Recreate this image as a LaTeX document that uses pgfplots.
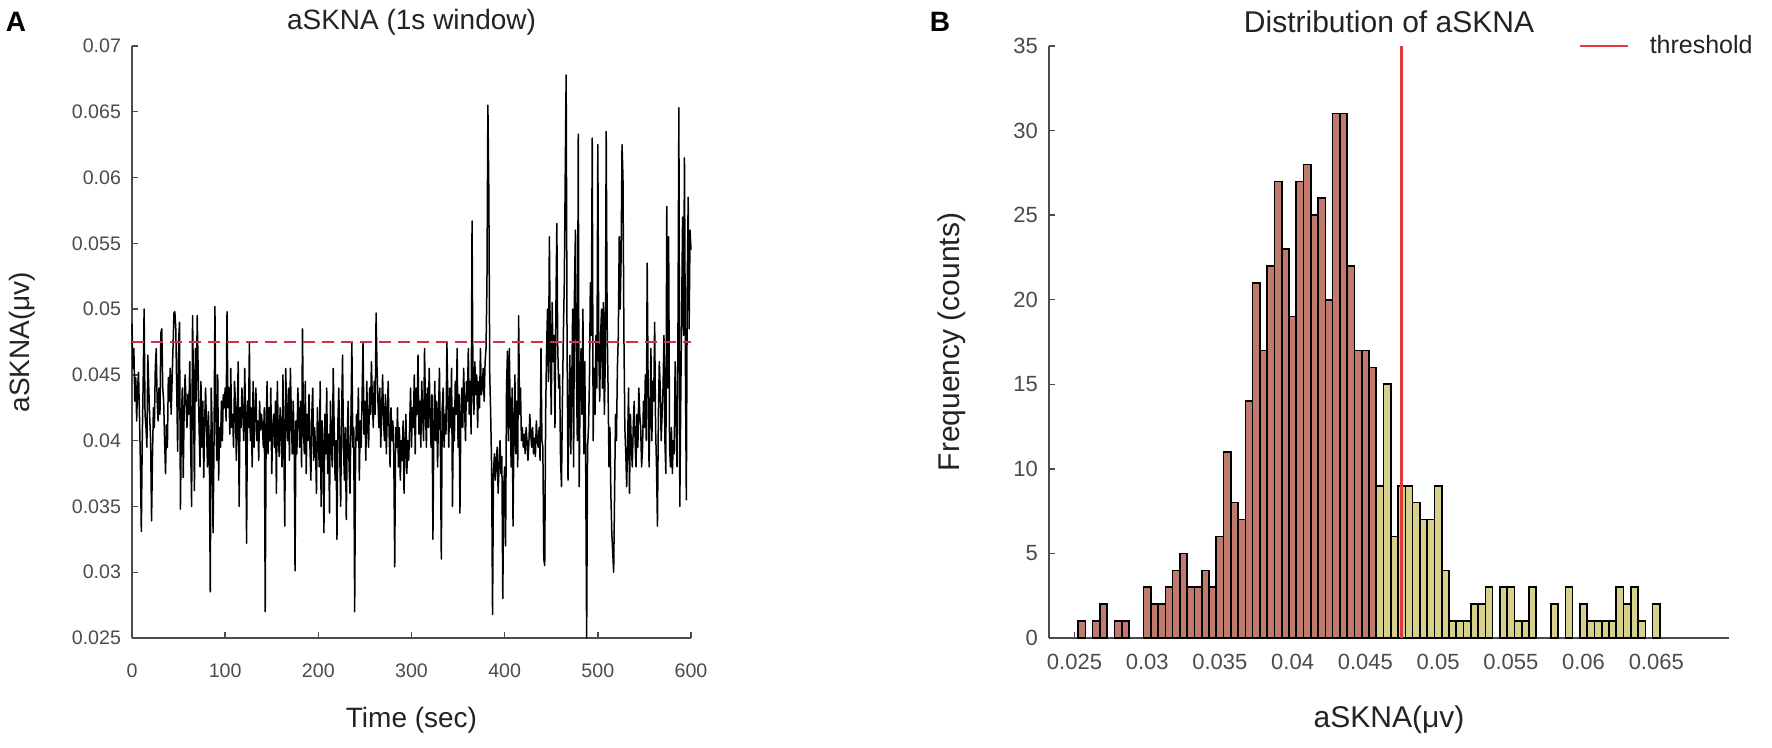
\documentclass[border=0pt]{standalone}
\usepackage{fontspec}
\setmainfont{Liberation Sans}
\usepackage{pgfplots}
\pgfplotsset{compat=1.18}
\definecolor{brownbar}{RGB}{192,122,108}
\definecolor{yellowbar}{RGB}{214,208,138}
\definecolor{thr}{RGB}{228,58,58}
\definecolor{dashred}{RGB}{205,50,70}
\definecolor{axgray}{RGB}{75,75,75}
\definecolor{labgray}{RGB}{35,35,35}
\begin{document}
\begin{tikzpicture}
\useasboundingbox (0,0) rectangle (886pt,374pt);
\pgfplotsset{
  myaxis/.style={
    scale only axis,
    axis x line=bottom, axis y line=left,
    axis line style={axgray, line width=0.8pt, -},
    tick align=inside,
    tick style={axgray, line width=0.7pt},
    major tick length=3pt,
    /pgf/number format/assume math mode=true,
    xticklabel style={yshift=-4.5pt},
    yticklabel style={xshift=-2pt},
    scaled x ticks=false, scaled y ticks=false,
    clip=false,
  }
}
% ---------- Panel A ----------
\begin{axis}[myaxis, at={(66pt,55pt)}, anchor=south west,
  width=279.5pt, height=296pt,
  tick label style={font=\fontsize{9.8}{12}\selectfont, text=axgray},
  xticklabel style={yshift=-5pt},
  xmin=0, xmax=600, ymin=0.025, ymax=0.07,
  xtick={0,100,200,300,400,500,600},
  ytick={0.025,0.03,0.035,0.04,0.045,0.05,0.055,0.06,0.065,0.07},
  yticklabels={0.025,0.03,0.035,0.04,0.045,0.05,0.055,0.06,0.065,0.07}]
\addplot[black, line width=0.75pt, line join=round] coordinates {
(0,0.0489)(1,0.0455)(2,0.0470)(3,0.0430)(4,0.0448)(5,0.0415)(6,0.0440)(7,0.0452)(8,0.0420)(9,0.0384)(10,0.0331)(11,0.0400)(12,0.0445)(13,0.0500)(14,0.0420)(15,0.0410)(16,0.0395)(17,0.0465)(18,0.0440)(19,0.0418)
(20,0.0400)(21,0.0339)(22,0.0388)(23,0.0425)(24,0.0410)(25,0.0455)(26,0.0470)(27,0.0430)(28,0.0415)(29,0.0440)(30,0.0420)(31,0.0482)(32,0.0485)(33,0.0440)(34,0.0430)(35,0.0400)(36,0.0375)(37,0.0412)(38,0.0395)(39,0.0448)
(40,0.0430)(41,0.0455)(42,0.0420)(43,0.0445)(44,0.0470)(45,0.0497)(46,0.0498)(47,0.0485)(48,0.0440)(49,0.0392)(50,0.0475)(51,0.0490)(52,0.0348)(53,0.0415)(54,0.0440)(55,0.0372)(56,0.0425)(57,0.0450)(58,0.0430)(59,0.0410)
(60,0.0435)(61,0.0420)(62,0.0460)(63,0.0395)(64,0.0350)(65,0.0495)(66,0.0440)(67,0.0362)(68,0.0470)(69,0.0430)(70,0.0495)(71,0.0455)(72,0.0410)(73,0.0380)(74,0.0445)(75,0.0395)(76,0.0430)(77,0.0372)(78,0.0415)(79,0.0440)
(80,0.0410)(81,0.0380)(82,0.0422)(83,0.0395)(84,0.0285)(85,0.0440)(86,0.0410)(87,0.0330)(88,0.0395)(89,0.0502)(90,0.0420)(91,0.0385)(92,0.0450)(93,0.0370)(94,0.0410)(95,0.0395)(96,0.0430)(97,0.0400)(98,0.0435)(99,0.0425)
(100,0.0440)(101,0.0415)(102,0.0498)(103,0.0425)(104,0.0440)(105,0.0405)(106,0.0455)(107,0.0410)(108,0.0420)(109,0.0395)(110,0.0445)(111,0.0430)(112,0.0385)(113,0.0420)(114,0.0460)(115,0.0350)(116,0.0425)(117,0.0410)(118,0.0440)(119,0.0420)
(120,0.0400)(121,0.0455)(122,0.0415)(123,0.0322)(124,0.0430)(125,0.0410)(126,0.0475)(127,0.0400)(128,0.0425)(129,0.0380)(130,0.0445)(131,0.0395)(132,0.0420)(133,0.0440)(134,0.0400)(135,0.0415)(136,0.0385)(137,0.0430)(138,0.0408)(139,0.0420)
(140,0.0410)(141,0.0395)(142,0.0425)(143,0.0270)(144,0.0410)(145,0.0445)(146,0.0390)(147,0.0425)(148,0.0400)(149,0.0440)(150,0.0375)(151,0.0410)(152,0.0420)(153,0.0395)(154,0.0430)(155,0.0360)(156,0.0445)(157,0.0405)(158,0.0388)(159,0.0425)
(160,0.0410)(161,0.0380)(162,0.0450)(163,0.0395)(164,0.0335)(165,0.0455)(166,0.0420)(167,0.0400)(168,0.0440)(169,0.0385)(170,0.0455)(171,0.0420)(172,0.0390)(173,0.0430)(174,0.0405)(175,0.0301)(176,0.0415)(177,0.0390)(178,0.0440)(179,0.0420)
(180,0.0395)(181,0.0430)(182,0.0380)(183,0.0485)(184,0.0410)(185,0.0390)(186,0.0445)(187,0.0375)(188,0.0420)(189,0.0400)(190,0.0435)(191,0.0395)(192,0.0370)(193,0.0420)(194,0.0440)(195,0.0385)(196,0.0410)(197,0.0395)(198,0.0360)(199,0.0425)
(200,0.0400)(201,0.0380)(202,0.0445)(203,0.0350)(204,0.0415)(205,0.0395)(206,0.0330)(207,0.0420)(208,0.0390)(209,0.0440)(210,0.0375)(211,0.0405)(212,0.0345)(213,0.0430)(214,0.0395)(215,0.0380)(216,0.0455)(217,0.0410)(218,0.0370)(219,0.0400)
(220,0.0325)(221,0.0415)(222,0.0440)(223,0.0390)(224,0.0350)(225,0.0420)(226,0.0465)(227,0.0395)(228,0.0370)(229,0.0410)(230,0.0340)(231,0.0400)(232,0.0430)(233,0.0380)(234,0.0360)(235,0.0415)(236,0.0475)(237,0.0395)(238,0.0410)(239,0.0270)
(240,0.0390)(241,0.0420)(242,0.0400)(243,0.0440)(244,0.0370)(245,0.0415)(246,0.0395)(247,0.0435)(248,0.0475)(249,0.0405)(250,0.0430)(251,0.0385)(252,0.0445)(253,0.0410)(254,0.0395)(255,0.0440)(256,0.0420)(257,0.0460)(258,0.0430)(259,0.0410)
(260,0.0445)(261,0.0420)(262,0.0497)(263,0.0455)(264,0.0430)(265,0.0410)(266,0.0440)(267,0.0395)(268,0.0425)(269,0.0450)(270,0.0415)(271,0.0400)(272,0.0435)(273,0.0390)(274,0.0420)(275,0.0445)(276,0.0405)(277,0.0380)(278,0.0425)(279,0.0400)
(280,0.0415)(281,0.0390)(282,0.0304)(283,0.0410)(284,0.0395)(285,0.0425)(286,0.0380)(287,0.0410)(288,0.0370)(289,0.0400)(290,0.0385)(291,0.0415)(292,0.0360)(293,0.0395)(294,0.0420)(295,0.0375)(296,0.0400)(297,0.0385)(298,0.0410)(299,0.0440)
(300,0.0395)(301,0.0425)(302,0.0410)(303,0.0450)(304,0.0390)(305,0.0440)(306,0.0420)(307,0.0465)(308,0.0405)(309,0.0430)(310,0.0395)(311,0.0445)(312,0.0420)(313,0.0400)(314,0.0470)(315,0.0425)(316,0.0395)(317,0.0440)(318,0.0410)(319,0.0455)
(320,0.0420)(321,0.0395)(322,0.0435)(323,0.0325)(324,0.0410)(325,0.0445)(326,0.0400)(327,0.0430)(328,0.0380)(329,0.0420)(330,0.0455)(331,0.0400)(332,0.0310)(333,0.0425)(334,0.0440)(335,0.0395)(336,0.0420)(337,0.0405)(338,0.0475)(339,0.0430)
(340,0.0395)(341,0.0440)(342,0.0410)(343,0.0455)(344,0.0350)(345,0.0425)(346,0.0400)(347,0.0445)(348,0.0420)(349,0.0470)(350,0.0395)(351,0.0435)(352,0.0345)(353,0.0420)(354,0.0440)(355,0.0410)(356,0.0455)(357,0.0425)(358,0.0400)(359,0.0445)
(360,0.0430)(361,0.0470)(362,0.0420)(363,0.0445)(364,0.0405)(365,0.0567)(366,0.0440)(367,0.0420)(368,0.0460)(369,0.0435)(370,0.0450)(371,0.0410)(372,0.0445)(373,0.0425)(374,0.0470)(375,0.0435)(376,0.0440)(377,0.0455)(378,0.0430)(379,0.0460)
(380,0.0470)(381,0.0520)(382,0.0655)(383,0.0590)(384,0.0450)(385,0.0420)(386,0.0380)(387,0.0268)(388,0.0375)(389,0.0390)(390,0.0370)(391,0.0385)(392,0.0395)(393,0.0360)(394,0.0380)(395,0.0400)(396,0.0375)(397,0.0388)(398,0.0280)(399,0.0365)
(400,0.0380)(401,0.0320)(402,0.0440)(403,0.0468)(404,0.0400)(405,0.0470)(406,0.0420)(407,0.0380)(408,0.0440)(409,0.0335)(410,0.0410)(411,0.0450)(412,0.0390)(413,0.0430)(414,0.0380)(415,0.0495)(416,0.0420)(417,0.0440)(418,0.0400)(419,0.0410)
(420,0.0395)(421,0.0405)(422,0.0390)(423,0.0410)(424,0.0400)(425,0.0385)(426,0.0398)(427,0.0420)(428,0.0405)(429,0.0395)(430,0.0410)(431,0.0390)(432,0.0402)(433,0.0388)(434,0.0415)(435,0.0400)(436,0.0395)(437,0.0410)(438,0.0385)(439,0.0470)
(440,0.0400)(441,0.0395)(442,0.0310)(443,0.0305)(444,0.0420)(445,0.0470)(446,0.0500)(447,0.0445)(448,0.0555)(449,0.0470)(450,0.0420)(451,0.0505)(452,0.0460)(453,0.0480)(454,0.0410)(455,0.0500)(456,0.0565)(457,0.0470)(458,0.0440)(459,0.0450)
(460,0.0385)(461,0.0365)(462,0.0430)(463,0.0480)(464,0.0520)(465,0.0600)(466,0.0678)(467,0.0470)(468,0.0370)(469,0.0420)(470,0.0465)(471,0.0390)(472,0.0440)(473,0.0500)(474,0.0380)(475,0.0520)(476,0.0560)(477,0.0450)(478,0.0400)(479,0.0633)
(480,0.0365)(481,0.0440)(482,0.0470)(483,0.0420)(484,0.0500)(485,0.0390)(486,0.0460)(487,0.0380)(488,0.0250)(489,0.0395)(490,0.0410)(491,0.0445)(492,0.0520)(493,0.0480)(494,0.0630)(495,0.0400)(496,0.0455)(497,0.0420)(498,0.0480)(499,0.0440)
(500,0.0625)(501,0.0470)(502,0.0430)(503,0.0480)(504,0.0500)(505,0.0440)(506,0.0505)(507,0.0420)(508,0.0460)(509,0.0635)(510,0.0490)(511,0.0440)(512,0.0380)(513,0.0410)(514,0.0360)(515,0.0330)(516,0.0315)(517,0.0300)(518,0.0360)(519,0.0420)
(520,0.0400)(521,0.0455)(522,0.0480)(523,0.0555)(524,0.0500)(525,0.0540)(526,0.0625)(527,0.0600)(528,0.0480)(529,0.0410)(530,0.0390)(531,0.0365)(532,0.0400)(533,0.0440)(534,0.0360)(535,0.0420)(536,0.0395)(537,0.0380)(538,0.0410)(539,0.0430)
(540,0.0400)(541,0.0380)(542,0.0420)(543,0.0395)(544,0.0440)(545,0.0420)(546,0.0410)(547,0.0380)(548,0.0395)(549,0.0430)(550,0.0410)(551,0.0450)(552,0.0400)(553,0.0535)(554,0.0440)(555,0.0380)(556,0.0420)(557,0.0470)(558,0.0400)(559,0.0445)
(560,0.0430)(561,0.0490)(562,0.0410)(563,0.0380)(564,0.0335)(565,0.0420)(566,0.0460)(567,0.0440)(568,0.0400)(569,0.0420)(570,0.0440)(571,0.0480)(572,0.0400)(573,0.0375)(574,0.0578)(575,0.0440)(576,0.0555)(577,0.0395)(578,0.0380)(579,0.0410)
(580,0.0375)(581,0.0400)(582,0.0390)(583,0.0460)(584,0.0420)(585,0.0380)(586,0.0480)(587,0.0653)(588,0.0350)(589,0.0430)(590,0.0500)(591,0.0570)(592,0.0480)(593,0.0615)(594,0.0460)(595,0.0355)(596,0.0520)(597,0.0585)(598,0.0485)(599,0.0560)(600,0.0545)
};
\addplot[dashred, line width=1.2pt, dash pattern=on 6pt off 3.5pt] coordinates {(0,0.0475)(600,0.0475)};
\end{axis}
% ---------- Panel B ----------
\begin{axis}[myaxis, at={(524.5pt,55pt)}, anchor=south west,
  width=340pt, height=296pt,
  tick label style={font=\fontsize{11}{13}\selectfont, text=axgray},
  xmin=0.02325, xmax=0.07, ymin=0, ymax=35,
  xtick={0.025,0.03,0.035,0.04,0.045,0.05,0.055,0.06,0.065},
  xticklabels={0.025,0.03,0.035,0.04,0.045,0.05,0.055,0.06,0.065},
  ytick={0,5,10,15,20,25,30,35},
  legend style={at={(axis description cs:1,1)}, anchor=east, xshift=17pt,
    draw=none, fill=none, font=\fontsize{12.5}{15}\selectfont, text=labgray},
  legend cell align=left,
  legend image code/.code={\draw[#1] (0pt,0pt) -- (24pt,0pt); \path (32pt,0pt);}]
\addplot[ybar, bar width=0.0005, bar shift=0pt, fill=brownbar, draw=black, line width=0.8pt, forget plot] coordinates {
(0.0255,1)(0.0265,1)(0.027,2)(0.028,1)(0.0285,1)(0.030,3)(0.0305,2)(0.031,2)(0.0315,3)(0.032,4)(0.0325,5)(0.033,3)(0.0335,3)(0.034,4)(0.0345,3)(0.035,6)(0.0355,11)(0.036,8)(0.0365,7)(0.037,14)(0.0375,21)(0.038,17)(0.0385,22)(0.039,27)(0.0395,23)(0.040,19)(0.0405,27)(0.041,28)(0.0415,25)(0.042,26)(0.0425,20)(0.043,31)(0.0435,31)(0.044,22)(0.0445,17)(0.045,17)(0.0455,16)
};
\addplot[ybar, bar width=0.0005, bar shift=0pt, fill=yellowbar, draw=black, line width=0.8pt, forget plot] coordinates {
(0.046,9)(0.0465,15)(0.047,6)(0.0475,9)(0.048,9)(0.0485,8)(0.049,7)(0.0495,7)(0.050,9)(0.0505,4)(0.051,1)(0.0515,1)(0.052,1)(0.0525,2)(0.053,2)(0.0535,3)(0.0545,3)(0.055,3)(0.0555,1)(0.056,1)(0.0565,3)(0.058,2)(0.059,3)(0.060,2)(0.0605,1)(0.061,1)(0.0615,1)(0.062,1)(0.0625,3)(0.063,2)(0.0635,3)(0.064,1)(0.065,2)
};
\addplot[thr, line width=1.3pt] coordinates {(0.0475,0)(0.0475,35)};
\addlegendentry{threshold}
\end{axis}
% ---------- texts ----------
\node[font=\bfseries\fontsize{14}{16}\selectfont] at (8pt,363pt) {A};
\node[font=\bfseries\fontsize{14}{16}\selectfont] at (470pt,363pt) {B};
\node[font=\fontsize{14}{17}\selectfont, text=labgray] at (205.75pt,363pt) {aSKNA (1s window)};
\node[font=\fontsize{15}{18}\selectfont, text=labgray] at (694.5pt,363pt) {Distribution of aSKNA};
\node[font=\fontsize{14}{17}\selectfont, text=labgray] at (205.75pt,14pt) {Time (sec)};
\node[font=\fontsize{15}{18}\selectfont, text=labgray] at (694.5pt,14pt) {aSKNA(μv)};
\node[font=\fontsize{14}{17}\selectfont, text=labgray, rotate=90] at (11pt,203pt) {aSKNA(μv)};
\node[font=\fontsize{15}{18}\selectfont, text=labgray, rotate=90] at (476pt,203pt) {Frequency (counts)};
\end{tikzpicture}
\end{document}
